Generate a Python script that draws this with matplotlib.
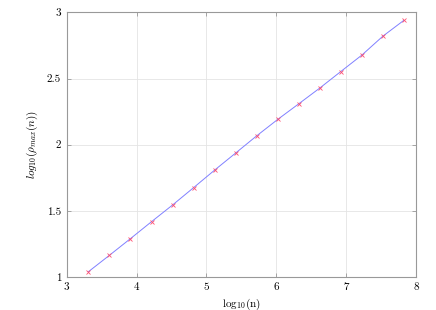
import numpy as np
import matplotlib
matplotlib.use('Agg')
import matplotlib.pyplot as plt

plt.rcParams['font.family'] = 'serif'
plt.rcParams['font.serif'] = ['cmr10']
plt.rcParams['mathtext.fontset'] = 'cm'
plt.rcParams['axes.formatter.use_mathtext'] = True

# log10(n) for n = 2^11 ... 2^26
log_n = np.array([3.311, 3.612, 3.913, 4.214, 4.515, 4.816, 5.118, 5.419,
                  5.720, 6.021, 6.322, 6.623, 6.924, 7.225, 7.526, 7.827])
log_rho = np.array([1.040, 1.164, 1.290, 1.418, 1.544, 1.675, 1.808, 1.937,
                    2.067, 2.191, 2.309, 2.428, 2.553, 2.677, 2.820, 2.940])

x_ticks = [3, 4, 5, 6, 7, 8]
y_ticks = [1, 1.5, 2, 2.5, 3]

fig = plt.figure(figsize=(4.36, 3.10), dpi=100)
ax = fig.add_axes([0.153, 0.1065, 0.801, 0.8535])

ax.plot(log_n, log_rho, color='#8080ff', lw=0.7, zorder=3)
ax.plot(log_n, log_rho, ls='none', marker='x', ms=3.2, mew=0.6,
        color='#ff5070', zorder=4)

ax.set_xlim(3, 8)
ax.set_ylim(1, 3)
ax.set_xticks(x_ticks)
ax.set_yticks(y_ticks)
ax.set_xticklabels([str(t) for t in x_ticks])
ax.set_yticklabels(['1', '1.5', '2', '2.5', '3'])
ax.grid(True, color='#e4e4e4', lw=0.6)
ax.set_axisbelow(True)

for s in ax.spines.values():
    s.set_color('#999999')
    s.set_linewidth(0.8)

ax.tick_params(direction='in', length=3, width=0.6, color='#999999',
               labelsize=8, top=True, right=True, pad=4)

ax.set_xlabel(r'$\mathrm{log_{10}(n)}$', fontsize=8, labelpad=3)
ax.set_ylabel(r'$log_{10}(\rho_{max}(n))$', fontsize=8, labelpad=5)

fig.savefig('out.png', dpi=100)
